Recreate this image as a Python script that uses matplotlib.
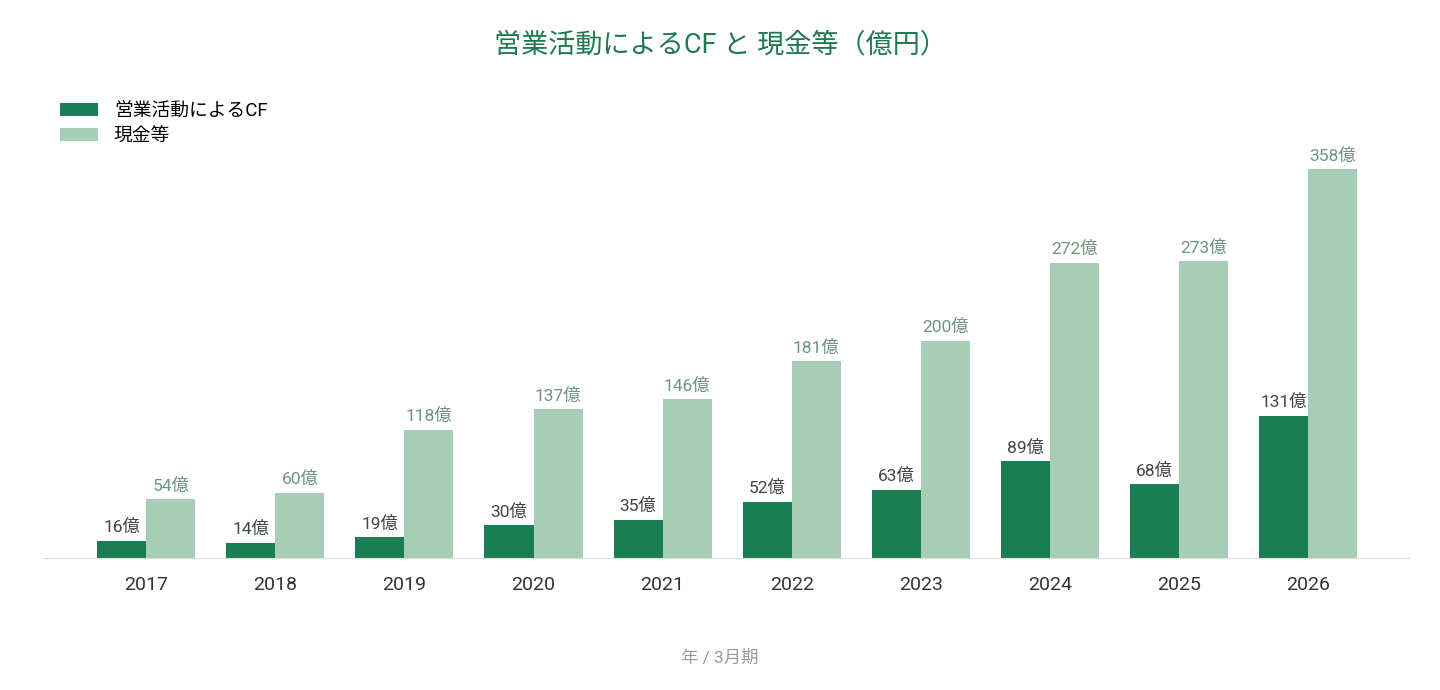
import matplotlib
matplotlib.use('Agg')
import matplotlib.pyplot as plt
import numpy as np

plt.rcParams['font.family'] = ['Roboto', 'Noto Sans CJK JP', 'DejaVu Sans']

years = ['2017', '2018', '2019', '2020', '2021', '2022', '2023', '2024', '2025', '2026']
operating_cf = [16, 14, 19, 30, 35, 52, 63, 89, 68, 131]
cash = [54, 60, 118, 137, 146, 181, 200, 272, 273, 358]

dark = '#1b7d53'
light = '#a8cdb6'

fig = plt.figure(figsize=(14.4, 6.9), dpi=100)
ax = fig.add_axes([43 / 1440, 1 - 558 / 690, (1410 - 43) / 1440, (558 - 130) / 690])

x = np.arange(len(years))
w = 0.38
b1 = ax.bar(x - w / 2, operating_cf, w, color=dark, label='営業活動によるCF')
b2 = ax.bar(x + w / 2, cash, w, color=light, label='現金等')

for rect, v in zip(b1, operating_cf):
    ax.annotate(f'{v}億', (rect.get_x() + rect.get_width() / 2, v), xytext=(0, 4),
                textcoords='offset points', ha='center', va='bottom', fontsize=12.5, color='#444444')
for rect, v in zip(b2, cash):
    ax.annotate(f'{v}億', (rect.get_x() + rect.get_width() / 2, v), xytext=(0, 4),
                textcoords='offset points', ha='center', va='bottom', fontsize=12.5, color='#6e9480')

ax.set_xlim(-0.8, 9.79)
ax.set_ylim(0, 394)
ax.set_xticks(x)
ax.set_xticklabels(years, fontsize=14, color='#333333')
ax.tick_params(axis='x', length=0, pad=13)
ax.set_yticks([])
for s in ['top', 'right', 'left']:
    ax.spines[s].set_visible(False)
ax.spines['bottom'].set_color('#dddddd')

fig.text(0.5, 1 - 45 / 690, '営業活動によるCF と 現金等（億円）', ha='center', va='center',
         fontsize=19.5, color='#1f7a50')
fig.text(720 / 1440, 1 - 658 / 690, '年 / 3月期', ha='center', va='center', fontsize=12.5, color='#999999')

fig.legend(handles=[b1, b2], loc='upper left', bbox_to_anchor=(43 / 1440, 1 - 85 / 690),
           frameon=False, fontsize=13.5, handlelength=2.03, handleheight=0.7, labelspacing=0.4,
           handletextpad=0.85)

fig.savefig('out.png', dpi=100)
